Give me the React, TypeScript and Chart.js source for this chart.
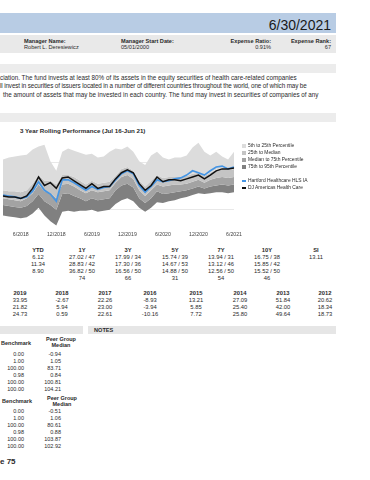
import React, { useEffect, useRef } from "react";
import { Chart, registerables } from "chart.js";

Chart.register(...registerables);

const FONT = '"Liberation Sans", Arial, Helvetica, sans-serif';

// ---- chart data ----
const months = [
  "3/2018", "4/2018", "5/2018", "6/2018", "7/2018", "8/2018", "9/2018", "10/2018", "11/2018", "12/2018",
  "1/2019", "2/2019", "3/2019", "4/2019", "5/2019", "6/2019", "7/2019", "8/2019", "9/2019", "10/2019", "11/2019", "12/2019",
  "1/2020", "2/2020", "3/2020", "4/2020", "5/2020", "6/2020", "7/2020", "8/2020", "9/2020", "10/2020", "11/2020", "12/2020",
  "1/2021", "2/2021", "3/2021", "4/2021", "5/2021", "6/2021",
];
const tickLabels = ["6/2018", "12/2018", "6/2019", "12/2019", "6/2020", "12/2020", "6/2021"];

const fundValues = [3.1, 2.9, 2.7, 2.4, 2.7, 3.9, 5.9, 4.1, 3.3, 1.8, 6.3, 6.3, 5.7, 4.9, 4.1, 4.9, 4.3, 4.7, 4.9, 6.3, 7.6, 8.2, 7.6, 5.1, 3.7, 4.9, 6.3, 5.9, 6.1, 6.5, 6.7, 7.3, 8.2, 7.8, 7.3, 8.2, 9.0, 9.2, 8.6, 9.0];
const benchValues = [2.9, 2.7, 2.7, 2.4, 2.9, 4.5, 6.9, 5.1, 5.7, 4.5, 6.7, 6.9, 6.1, 5.3, 4.5, 5.5, 4.5, 4.9, 4.9, 6.5, 7.8, 8.4, 7.8, 5.5, 4.1, 5.1, 6.9, 5.9, 6.3, 6.3, 6.1, 6.5, 6.9, 7.3, 6.5, 7.3, 8.2, 8.6, 8.6, 8.8];
const p5 = [10.6, 11.0, 11.2, 11.4, 11.6, 12.7, 13.3, 13.7, 10.2, 8.2, 12.2, 12.9, 12.4, 12.0, 11.6, 11.8, 11.0, 11.2, 12.2, 12.9, 12.7, 13.3, 12.2, 10.2, 9.4, 11.4, 12.2, 11.0, 10.6, 11.0, 11.0, 11.4, 13.1, 14.1, 12.2, 11.4, 12.2, 11.2, 10.6, 12.2];
const p25 = [4.1, 3.9, 3.9, 3.7, 4.1, 5.5, 7.3, 6.1, 6.1, 5.3, 7.3, 7.3, 6.9, 6.1, 5.3, 6.1, 5.5, 5.7, 5.9, 7.1, 8.6, 9.0, 8.2, 6.1, 4.9, 6.1, 7.3, 6.7, 6.9, 6.9, 6.9, 7.1, 7.6, 7.8, 7.1, 7.8, 8.4, 8.6, 8.4, 8.6];
const p50 = [2.4, 2.2, 2.0, 1.8, 2.4, 3.5, 5.3, 3.9, 3.5, 2.4, 5.3, 5.5, 4.9, 4.1, 3.5, 4.1, 3.7, 3.9, 4.1, 5.7, 6.9, 7.3, 6.5, 4.1, 2.9, 4.1, 5.3, 4.9, 5.1, 5.3, 5.3, 5.5, 5.9, 6.3, 5.7, 6.3, 6.7, 6.9, 6.7, 6.9];
const p75 = [1.0, 0.8, 0.6, 0.4, 0.8, 1.8, 3.3, 1.8, 1.0, 0.0, 3.3, 3.5, 2.9, 2.4, 1.8, 2.4, 2.0, 2.2, 2.4, 4.1, 5.1, 5.5, 4.7, 2.4, 1.4, 2.4, 3.9, 3.3, 3.5, 3.7, 3.9, 4.1, 4.5, 4.9, 4.5, 4.9, 5.1, 5.3, 5.1, 5.3];
const p95 = [-1.2, -1.4, -1.6, -1.8, -1.6, -0.8, 0.4, -1.2, -2.4, -3.3, -0.4, -0.2, -0.4, -0.2, -0.2, 0.0, -0.4, -0.2, 0.0, 1.2, 2.0, 2.4, 1.8, 0.4, -0.4, 0.4, 1.6, 1.4, 1.8, 2.0, 2.4, 2.7, 3.1, 3.5, 3.3, 3.5, 3.7, 3.7, 3.5, 3.7];

const bandNames = ["5th to 25th Percentile", "25th to Median", "Median to 75th Percentile", "75th to 95th Percentile"];
const bandColors = ["#dcdcdc", "#c4c4c4", "#a3a3a3", "#808080"];
const fundName = "Hartford Healthcare HLS IA";
const benchName = "DJ Americas Health Care";
const fundColor = "#4595e4";
const benchColor = "#111111";

// ---- table data ----
const trailingHeads = ["YTD", "1Y", "3Y", "5Y", "7Y", "10Y", "SI"];
const trailingRows = [
  ["6.12", "27.02 / 47", "17.99 / 34", "15.74 / 39", "13.94 / 31", "16.75 / 38", "13.11"],
  ["11.34", "28.83 / 42", "17.30 / 36", "14.67 / 53", "13.12 / 46", "15.85 / 42", ""],
  ["8.90", "36.82 / 50", "16.56 / 50", "14.88 / 50", "12.56 / 50", "15.52 / 50", ""],
  ["", "74", "66", "31", "54", "46", ""],
];
const yearHeads = ["2019", "2018", "2017", "2016", "2015", "2014", "2013", "2012"];
const yearRows = [
  ["33.95", "-2.67", "22.26", "-8.93", "13.21", "27.09", "51.84", "20.62"],
  ["21.82", "5.94", "23.00", "-3.94", "5.85", "25.40", "42.00", "18.34"],
  ["24.73", "0.59", "22.61", "-10.16", "7.72", "25.80", "49.64", "18.73"],
];
const riskBench1 = ["0.00", "1.00", "100.00", "0.98", "100.00", "100.00"];
const riskPeer1 = ["-0.94", "1.05", "83.71", "0.84", "100.81", "104.21"];
const riskBench2 = ["0.00", "1.00", "100.00", "0.98", "100.00", "100.00"];
const riskPeer2 = ["-0.51", "1.06", "80.61", "0.88", "103.87", "102.92"];

const descLines = [
  "ciation. The fund invests at least 80% of its assets in the equity securities of health care-related companies",
  "ll invest in securities of issuers located in a number of different countries throughout the world, one of which may be",
  "the amount of assets that may be invested in each country. The fund may invest in securities of companies of any",
];

type TxtProps = { x: number; y: number; s?: number; b?: boolean; a?: "left" | "right" | "center"; c?: string; ls?: number; children?: React.ReactNode };
function Txt({ x, y, s = 5.8, b = false, a = "left", c = "#2a2a2a", ls = 0, children }: TxtProps) {
  const lh = s * 1.2;
  const style: React.CSSProperties = {
    position: "absolute",
    top: y - lh / 2,
    fontSize: s,
    lineHeight: lh + "px",
    fontWeight: b ? 700 : 400,
    color: c,
    whiteSpace: "nowrap",
    fontFamily: FONT,
    letterSpacing: ls,
  };
  if (a === "left") style.left = x;
  else if (a === "right") style.right = 370 - x;
  else {
    style.left = x - 60;
    style.width = 120;
    style.textAlign = "center";
  }
  return <div style={style}>{children}</div>;
}

function Box({ x, y, w, h, c }: { x: number; y: number; w: number; h: number; c: string }) {
  return <div style={{ position: "absolute", left: x, top: y, width: w, height: h, background: c }} />;
}

function RollingChart() {
  const ref = useRef<HTMLCanvasElement>(null);
  useEffect(() => {
    if (!ref.current) return;
    const band = (data: number[], color: string, fill: number | boolean) => ({
      data,
      borderWidth: 0,
      borderColor: "rgba(0,0,0,0)",
      backgroundColor: color,
      pointRadius: 0,
      fill,
      tension: 0,
    });
    const chart = new Chart(ref.current, {
      type: "line",
      data: {
        labels: months,
        datasets: [
          { label: benchName, data: benchValues, borderColor: benchColor, borderWidth: 1.5, pointRadius: 0, fill: false, tension: 0 },
          { label: fundName, data: fundValues, borderColor: fundColor, borderWidth: 1.7, pointRadius: 0, fill: false, tension: 0 },
          { label: bandNames[0], ...band(p5, bandColors[0], 3) },
          { label: bandNames[1], ...band(p25, bandColors[1], 4) },
          { label: bandNames[2], ...band(p50, bandColors[2], 5) },
          { label: bandNames[3], ...band(p75, bandColors[3], 6) },
          { label: "95th Percentile", ...band(p95, "rgba(0,0,0,0)", false) },
        ] as any,
      },
      options: {
        responsive: false,
        maintainAspectRatio: false,
        animation: false,
        layout: { padding: { left: 0, right: 22, top: 10.5, bottom: 0 } },
        plugins: { legend: { display: false }, tooltip: { enabled: false } },
        scales: {
          x: {
            grid: { display: false, drawTicks: false },
            border: { display: false },
            ticks: {
              autoSkip: false,
              maxRotation: 0,
              padding: 3,
              color: "#444",
              font: { size: 5.2, family: FONT },
              callback: (_v: any, i: number) => (tickLabels.includes(months[i]) ? months[i] : ""),
            },
          },
          y: {
            min: -4,
            max: 15,
            ticks: { display: false, stepSize: 5 },
            grid: {
              drawTicks: false,
              lineWidth: 0.8,
              color: (ctx: any) => (ctx.tick && (ctx.tick.value === 0 || ctx.tick.value === 10) ? "#e2e2e2" : "rgba(0,0,0,0)"),
            },
            border: { display: false },
          },
        },
      } as any,
    });
    return () => chart.destroy();
  }, []);
  return (
    <canvas
      ref={ref}
      width={256}
      height={113}
      style={{ position: "absolute", left: 0, top: 128, width: 256, height: 113 }}
    />
  );
}

export default function App() {
  const tCols = [38, 82, 128, 175, 221, 267, 316];
  const yCols = [20, 62, 105, 150, 196, 240, 283, 325];
  const tRowsY = [257, 264, 271, 278];
  const yRowsY = [300, 307, 314];
  const r1Y = [354.5, 361.5, 368.5, 375.5, 382.5, 389.5];
  const r2Y = [411, 418, 425, 432, 439, 446];
  const legendY = [146, 153, 160, 167];
  return (
    <div style={{ position: "absolute", left: 0, top: 0, width: 370, height: 480, overflow: "hidden", background: "#fff", fontFamily: FONT }}>
      {/* header */}
      <Box x={0} y={13} w={336} h={20} c="#b8cce4" />
      <Txt x={331} y={25} s={14} a="right" c="#1a1a1a">6/30/2021</Txt>
      <Box x={0} y={35} w={336} h={18} c="#e9e9e9" />
      <Txt x={24} y={41.3} s={5.6} b>Manager Name:</Txt>
      <Txt x={24} y={47.6} s={5.6}>Robert L. Deresiewicz</Txt>
      <Txt x={121} y={41.3} s={5.6} b>Manager Start Date:</Txt>
      <Txt x={121} y={47.6} s={5.6}>05/01/2000</Txt>
      <Txt x={271} y={41.3} s={5.6} b a="right">Expense Ratio:</Txt>
      <Txt x={271} y={47.6} s={5.6} a="right">0.91%</Txt>
      <Txt x={331} y={41.3} s={5.6} b a="right">Expense Rank:</Txt>
      <Txt x={331} y={47.6} s={5.6} a="right">67</Txt>

      {/* description */}
      <Box x={0} y={64} w={336} h={9} c="#ececec" />
      <Txt x={0} y={77.5} s={6.3}>{descLines[0]}</Txt>
      <Txt x={0} y={86} s={6.3} ls={-0.12}>{descLines[1]}</Txt>
      <Txt x={3} y={94.5} s={6.3}>{descLines[2]}</Txt>

      {/* chart section */}
      <Box x={0} y={113} w={336} h={9} c="#ececec" />
      <Txt x={20} y={131} s={6.2} b>3 Year Rolling Performance (Jul 16-Jun 21)</Txt>
      <RollingChart />
      {bandNames.map((n, i) => (
        <React.Fragment key={n}>
          <Box x={242} y={legendY[i] - 2} w={4} h={4} c={bandColors[i]} />
          <Txt x={248} y={legendY[i]} s={4.9}>{n}</Txt>
        </React.Fragment>
      ))}
      <Box x={242} y={180} w={4} h={2} c={fundColor} />
      <Txt x={248} y={181} s={4.9}>{fundName}</Txt>
      <Box x={242} y={187} w={4} h={2} c={benchColor} />
      <Txt x={248} y={188} s={4.9}>{benchName}</Txt>

      {/* trailing returns */}
      {trailingHeads.map((h, i) => (
        <Txt key={h} x={tCols[i]} y={250} a="center" b>{h}</Txt>
      ))}
      {trailingRows.map((row, r) =>
        row.map((v, i) => (
          <Txt key={r + "-" + i} x={tCols[i]} y={tRowsY[r]} a="center">{v}</Txt>
        ))
      )}

      {/* calendar years */}
      {yearHeads.map((h, i) => (
        <Txt key={h} x={yCols[i]} y={293} a="center" b>{h}</Txt>
      ))}
      {yearRows.map((row, r) =>
        row.map((v, i) => (
          <Txt key={"y" + r + "-" + i} x={yCols[i]} y={yRowsY[r]} a="center">{v}</Txt>
        ))
      )}

      {/* risk tables */}
      <Box x={0} y={326} w={83} h={8} c="#e6e6e6" />
      <Box x={88} y={326} w={248} h={8} c="#e6e6e6" />
      <Txt x={94} y={330} s={5.6} b>NOTES</Txt>
      <Txt x={31} y={343} s={5.5} b a="right">Benchmark</Txt>
      <Txt x={61} y={339.5} s={5.5} b a="center">Peer Group</Txt>
      <Txt x={61} y={345.5} s={5.5} b a="center">Median</Txt>
      {riskBench1.map((v, i) => (
        <Txt key={"b1" + i} x={24} y={r1Y[i]} s={5.5} a="right">{v}</Txt>
      ))}
      {riskPeer1.map((v, i) => (
        <Txt key={"p1" + i} x={61} y={r1Y[i]} s={5.5} a="right">{v}</Txt>
      ))}
      <Txt x={32} y={401} s={5.5} b a="right">Benchmark</Txt>
      <Txt x={62} y={398} s={5.5} b a="center">Peer Group</Txt>
      <Txt x={62} y={404} s={5.5} b a="center">Median</Txt>
      {riskBench2.map((v, i) => (
        <Txt key={"b2" + i} x={24} y={r2Y[i]} s={5.5} a="right">{v}</Txt>
      ))}
      {riskPeer2.map((v, i) => (
        <Txt key={"p2" + i} x={61} y={r2Y[i]} s={5.5} a="right">{v}</Txt>
      ))}
      <Txt x={0} y={461.5} s={8} b>e 75</Txt>
    </div>
  );
}
